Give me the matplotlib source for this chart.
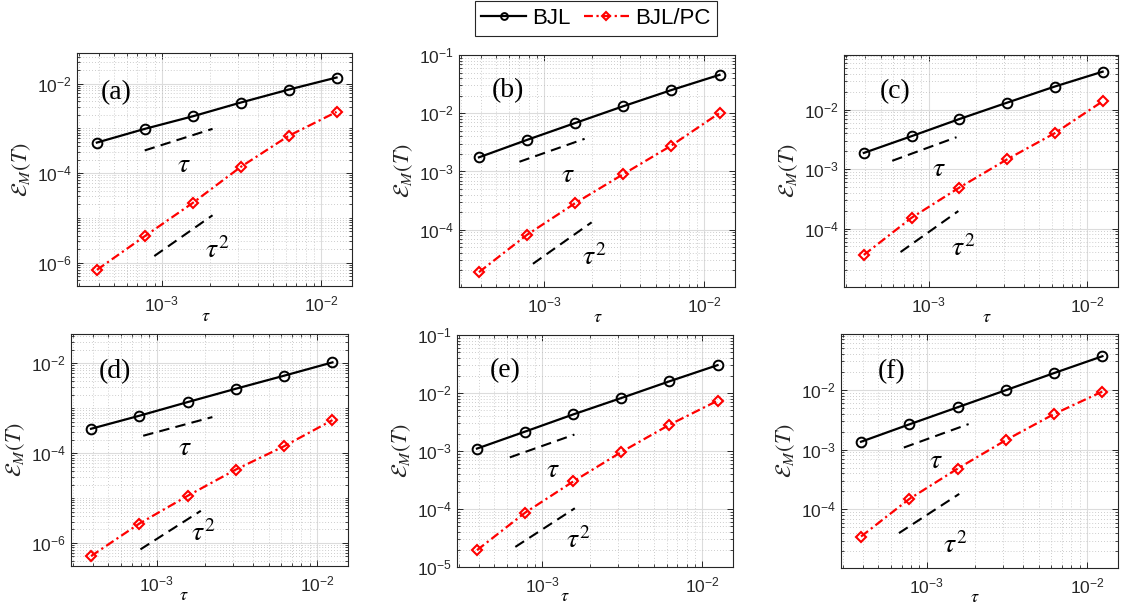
import numpy as np
import matplotlib
matplotlib.use("Agg")
import matplotlib.pyplot as plt
from matplotlib.ticker import LogLocator, FixedLocator, FuncFormatter, NullFormatter

plt.rcParams['font.family'] = ['Liberation Sans', 'DejaVu Sans']
plt.rcParams['mathtext.fontset'] = 'custom'
plt.rcParams['mathtext.rm'] = 'Liberation Sans'
plt.rcParams['mathtext.it'] = 'Liberation Sans:italic'
plt.rcParams['mathtext.bf'] = 'Liberation Sans:bold'

# ---------------- data ----------------
tau = [3.90625e-4, 7.8125e-4, 1.5625e-3, 3.125e-3, 6.25e-3, 1.25e-2]
panel_names = ['(a)', '(b)', '(c)', '(d)', '(e)', '(f)']

bjl_a = [4.79e-4, 9.7e-4, 1.85e-3, 3.75e-3, 7.3e-3, 1.36e-2]
pc_a = [6.87e-7, 3.9e-6, 2.15e-5, 1.37e-4, 6.76e-4, 2.32e-3]
bjl_b = [1.75e-3, 3.49e-3, 6.8e-3, 1.32e-2, 2.5e-2, 4.56e-2]
pc_b = [1.87e-5, 8.2e-5, 2.86e-4, 9.0e-4, 2.79e-3, 1.01e-2]
bjl_c = [1.87e-3, 3.58e-3, 6.95e-3, 1.31e-2, 2.45e-2, 4.35e-2]
pc_c = [3.6e-5, 1.52e-4, 4.89e-4, 1.46e-3, 4.03e-3, 1.38e-2]
bjl_d = [3.49e-4, 6.8e-4, 1.37e-3, 2.72e-3, 5.31e-3, 1.05e-2]
pc_d = [5.1e-7, 2.7e-6, 1.12e-5, 4.32e-5, 1.43e-4, 5.45e-4]
bjl_e = [1.1e-3, 2.16e-3, 4.27e-3, 8.19e-3, 1.59e-2, 3.02e-2]
pc_e = [1.95e-5, 8.63e-5, 2.98e-4, 9.6e-4, 2.83e-3, 7.36e-3]
bjl_f = [1.35e-3, 2.64e-3, 5.1e-3, 9.87e-3, 1.91e-2, 3.65e-2]
pc_f = [3.5e-5, 1.49e-4, 4.79e-4, 1.44e-3, 3.94e-3, 9.37e-3]

# reference slope lines: (x0, x1), (y0, y1)
ref1_x = [[7.8e-4, 2.08e-3], [7.0e-4, 1.79e-3], [5.9e-4, 1.5e-3],
          [8.26e-4, 2.23e-3], [6.27e-4, 1.59e-3], [7.22e-4, 1.83e-3]]
ref1_y = [[3.2e-4, 9.7e-4], [1.47e-3, 3.64e-3], [1.38e-3, 3.44e-3],
          [2.44e-4, 6.36e-4], [7.76e-4, 1.92e-3], [1.08e-3, 2.67e-3]]
ref2_x = [[8.96e-4, 2.08e-3], [8.5e-4, 1.98e-3], [6.66e-4, 1.54e-3],
          [7.94e-4, 1.89e-3], [6.79e-4, 1.6e-3], [6.73e-4, 1.6e-3]]
ref2_y = [[1.4e-6, 1.14e-5], [2.6e-5, 1.34e-4], [4.03e-5, 1.97e-4],
          [7.2e-7, 5.2e-6], [2.22e-5, 1.03e-4], [3.99e-5, 1.81e-4]]

# annotation anchor points (data coords)
name_pos = [(5.18e-4, 6.4e-3), (5.94e-4, 2.41e-2), (6.14e-4, 2.0e-2),
            (5.5e-4, 6.5e-3), (5.83e-4, 2.41e-2), (6.1e-4, 2.0e-2)]
tau1_pos = [(1.37e-3, 1.49e-4), (1.41e-3, 8.6e-4), (1.17e-3, 1.0e-3),
            (1.5e-3, 1.27e-4), (1.16e-3, 4.74e-4), (1.15e-3, 6.44e-4)]
tau2_pos = [(2.22e-3, 1.88e-6), (2.06e-3, 3.3e-5), (1.64e-3, 4.68e-5),
            (1.96e-3, 1.61e-6), (1.67e-3, 2.9e-5), (1.51e-3, 2.5e-5)]

ylims = [(3.0e-7, 4.8e-2), (1.04e-5, 1e-1), (1.04e-5, 8.3e-2),
         (3.07e-7, 4.5e-2), (1e-5, 1e-1), (1.04e-5, 8.6e-2)]
xlim = (2.93e-4, 1.5625e-2)
ytick_step = [2, 1, 1, 2, 1, 1]

# layout (pixels: left, right, top, bottom)
boxes = [(77, 352, 53, 286), (459, 735, 55, 287), (844, 1118, 55, 287),
         (71, 348, 334, 566), (457, 733, 335, 567), (841, 1118, 334, 568)]
xlabel_fx = [0.469, 0.504, 0.522, 0.408, 0.39, 0.484]
xlabel_fy = [-0.133, -0.133, -0.133, -0.127, -0.127, -0.125]

bjl = [bjl_a, bjl_b, bjl_c, bjl_d, bjl_e, bjl_f]
pc = [pc_a, pc_b, pc_c, pc_d, pc_e, pc_f]

W, H = 1121, 605
fig = plt.figure(figsize=(W / 100, H / 100), dpi=100)
fig.patch.set_facecolor('white')

axc = '#262626'


def fmt(v, pos):
    e = int(round(np.log10(v)))
    return r'$\mathregular{10^{%d}}$' % e


handles = None
for i in range(6):
    L, R, T, B = boxes[i]
    ax = fig.add_axes([L / W, (H - B) / H, (R - L) / W, (B - T) / H])
    ax.set_xscale('log')
    ax.set_yscale('log')
    ax.set_xlim(*xlim)
    ax.set_ylim(*ylims[i])

    # ticks
    ax.xaxis.set_major_locator(FixedLocator([1e-3, 1e-2]))
    ax.xaxis.set_minor_locator(LogLocator(base=10, subs=np.arange(2, 10), numticks=20))
    lo = int(np.floor(np.log10(ylims[i][0])))
    hi = int(np.ceil(np.log10(ylims[i][1])))
    if ytick_step[i] == 2:
        majors = [10.0 ** k for k in range(lo, hi + 1) if k % 2 == 0]
        minors = [s * 10.0 ** k for k in range(lo, hi + 1) for s in range(1, 10)
                  if not (s == 1 and k % 2 == 0)]
    else:
        majors = [10.0 ** k for k in range(lo, hi + 1)]
        minors = [s * 10.0 ** k for k in range(lo, hi + 1) for s in range(2, 10)]
    ax.yaxis.set_major_locator(FixedLocator(majors))
    ax.yaxis.set_minor_locator(FixedLocator(minors))
    ax.xaxis.set_major_formatter(FuncFormatter(fmt))
    ax.yaxis.set_major_formatter(FuncFormatter(fmt))
    ax.xaxis.set_minor_formatter(NullFormatter())
    ax.yaxis.set_minor_formatter(NullFormatter())
    ax.tick_params(which='both', direction='in', top=True, right=True, colors=axc,
                   labelsize=12.5, labelcolor=axc)
    ax.tick_params(which='major', length=4.5, width=0.7)
    ax.tick_params(which='minor', length=2.5, width=0.6)
    ax.tick_params(axis='x', which='major', pad=6)
    for s in ax.spines.values():
        s.set_color(axc)
        s.set_linewidth(0.8)

    ax.grid(True, which='major', color='#dcdcdc', linestyle='-', linewidth=0.8)
    ax.grid(True, which='minor', color='#bdbdbd', linestyle=(0, (1, 2.5)), linewidth=0.6)
    ax.set_axisbelow(True)

    l1, = ax.plot(tau, bjl[i], color='black', linestyle='-', linewidth=1.6,
                  marker='o', markersize=7, markerfacecolor='none',
                  markeredgewidth=1.4, label='BJL')
    l2, = ax.plot(tau, pc[i], color='red', linestyle=(0, (4, 1.6, 1, 1.6)), linewidth=1.6,
                  marker='D', markersize=5.5, markerfacecolor='none',
                  markeredgewidth=1.5, label='BJL/PC')
    handles = [l1, l2]

    ax.plot(ref1_x[i], ref1_y[i], color='black', linestyle=(0, (5, 3)), linewidth=1.5)
    ax.plot(ref2_x[i], ref2_y[i], color='black', linestyle=(0, (5, 3)), linewidth=1.5)

    ax.text(*name_pos[i], panel_names[i], fontsize=20, ha='center', va='center',
            family=['Liberation Serif'])
    ax.text(*tau1_pos[i], r'$\tau$', fontsize=20, ha='center', va='center',
            math_fontfamily='stix')
    ax.text(*tau2_pos[i], r'$\tau^2$', fontsize=20, ha='center', va='center',
            math_fontfamily='stix')

    ax.set_xlabel(r'$\tau$', fontsize=13, math_fontfamily='stix')
    ax.xaxis.set_label_coords(xlabel_fx[i], xlabel_fy[i])
    ax.xaxis.label.set_va('center')
    ax.set_ylabel(r'$\mathcal{E}_M(T)$', fontsize=16, math_fontfamily='stix', color=axc)
    ax.yaxis.set_label_coords(-55 / (R - L), 0.5)
    ax.yaxis.label.set_va('center')

leg = fig.legend(handles, ['BJL', 'BJL/PC'], loc='center', ncol=2,
                 bbox_to_anchor=(596 / W, 1 - 18.5 / H), fontsize=16,
                 frameon=True, fancybox=False, framealpha=1, edgecolor=axc,
                 handlelength=2.0, handletextpad=0.3, columnspacing=0.6,
                 borderpad=0.3, borderaxespad=0.2, markerscale=0.7)
leg.get_frame().set_linewidth(0.8)

fig.savefig('out.png', dpi=100)
